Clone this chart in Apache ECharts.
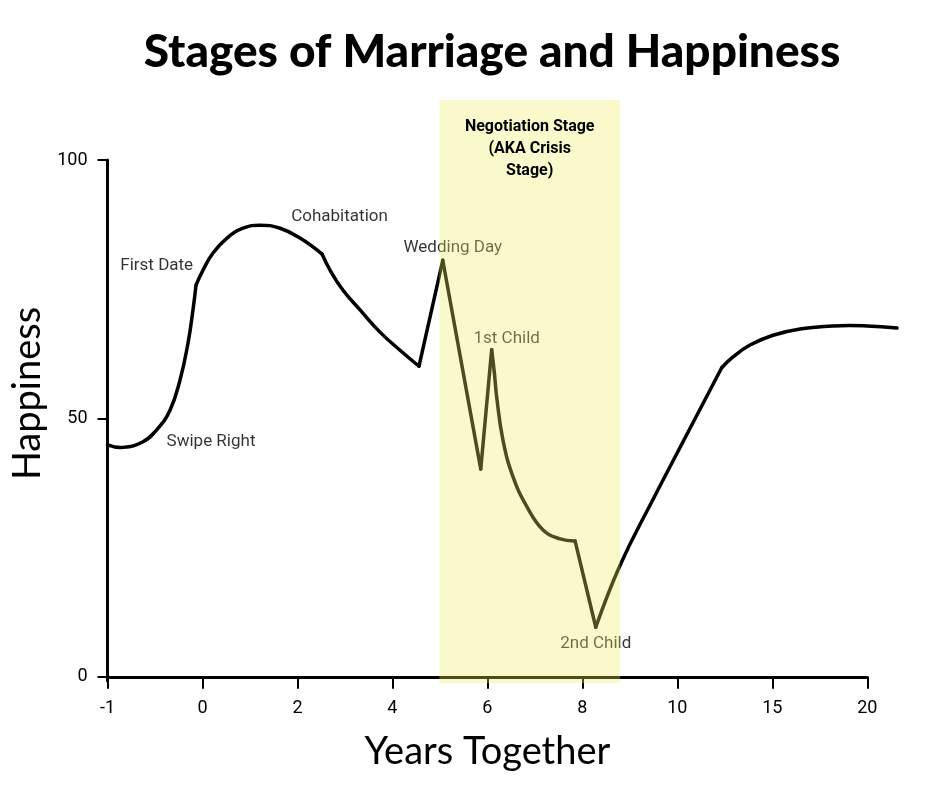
<!DOCTYPE html>
<html>
<head>
<meta charset="utf-8">
<script src="https://cdn.jsdelivr.net/npm/echarts@6/dist/echarts.min.js"></script>
<style>
  html, body { margin: 0; padding: 0; background: #fff; }
  #chart { width: 940px; height: 788px; }
</style>
</head>
<body>
<div id="chart"></div>
<script>
// tick labels on the x axis (the axis is evenly spaced by tick, not by year)
var tickLabels = ['-1', '0', '2', '4', '6', '8', '10', '15', '20'];

// happiness curve, x given in tick positions (0 = "-1", 8 = "20")
var curveX = [0, 0.163, 0.374, 0.518, 0.658, 0.763, 0.848, 0.900, 0.932,
  1.006, 1.111, 1.258, 1.427, 1.606, 1.817, 2.027, 2.259,
  2.343, 2.480, 2.659, 2.869, 3.080, 3.280,
  3.530, 3.930, 4.045,
  4.075, 4.098, 4.164, 4.270, 4.417, 4.586, 4.765, 4.923,
  5.141, 5.397, 5.712, 6.467,
  6.586, 6.765, 7.007, 7.292, 7.639, 7.997, 8.313];
var curveY = [44.9, 44.4, 45.5, 47.8, 51.6, 57.4, 64.6, 71.0, 75.8,
  78.7, 82.0, 84.9, 86.8, 87.4, 86.8, 84.9, 81.8,
  78.7, 74.8, 71.0, 66.7, 63.2, 60.1,
  80.6, 40.2, 63.3,
  58.5, 54.1, 45.8, 38.7, 32.9, 28.4, 26.7, 26.3,
  9.6, 21.6, 33.2, 59.8,
  61.9, 64.2, 66.1, 67.3, 67.9, 67.9, 67.5];
// indexes where the curve bends sharply
var kinks = [0, 8, 16, 22, 23, 24, 25, 33, 34, 37, 44];

// life events written next to the curve
var eventNames = ['Swipe Right', 'First Date', 'Cohabitation', 'Wedding Day', '1st Child', '2nd Child'];
var eventX = [1.090, 0.518, 2.443, 3.636, 4.203, 5.141];
var eventY = [45.4, 79.5, 89.0, 83.0, 65.5, 6.5];

// the negotiation (crisis) stage band
var bandStart = 3.494;
var bandEnd = 5.397;
var bandTop = 111.6;
var bandText = 'Negotiation Stage\n(AKA Crisis\nStage)';

var chart = echarts.init(document.getElementById('chart'));

// one item per stretch between two kinks; each stretch is drawn smooth
var segments = [];
for (var k = 0; k < kinks.length - 1; k++) segments.push([k]);

var series = [];

series.push({
  type: 'custom',
  data: segments,
  z: 2,
  clip: false,
  silent: true,
  renderItem: function (params, api) {
    var k = api.value(0);
    var pts = [];
    for (var i = kinks[k]; i <= kinks[k + 1]; i++) pts.push(api.coord([curveX[i], curveY[i]]));
    return {
      type: 'polyline',
      shape: { points: pts, smooth: pts.length > 2 ? 0.45 : 0 },
      style: { fill: null, stroke: '#000', lineWidth: 3.5, lineCap: 'round', lineJoin: 'round' }
    };
  }
});

series.push({
  type: 'scatter',
  data: eventNames.map(function (n, i) { return { name: n, value: [eventX[i], eventY[i]] }; }),
  symbolSize: 0,
  z: 2,
  label: {
    show: true,
    position: 'inside',
    formatter: '{b}',
    color: '#000',
    fontFamily: 'Roboto',
    fontSize: 17
  },
  silent: true
});

series.push({
  type: 'custom',
  data: [[bandStart, bandEnd, bandTop]],
  z: 5,
  clip: false,
  silent: true,
  renderItem: function (params, api) {
    var p0 = api.coord([api.value(0), api.value(2)]);
    var p1 = api.coord([api.value(1), -0.8]);
    return {
      type: 'group',
      children: [{
        type: 'rect',
        shape: { x: p0[0], y: p0[1], width: p1[0] - p0[0], height: p1[1] - p0[1] + 2 },
        style: { fill: 'rgba(235,235,95,0.32)' }
      }, {
        type: 'text',
        z2: 10,
        style: {
          text: bandText,
          x: (p0[0] + p1[0]) / 2,
          y: p0[1] + 16,
          align: 'center',
          verticalAlign: 'top',
          fill: '#000',
          fontFamily: 'Roboto',
          fontWeight: 'bold',
          fontSize: 16,
          lineHeight: 22
        }
      }]
    };
  }
});

var option = {
  animation: false,
  backgroundColor: '#fff',
  title: {
    text: 'Stages of Marriage and Happiness',
    left: 487,
    textAlign: 'center',
    top: 24,
    textStyle: {
      fontFamily: 'Lato',
      fontWeight: 900,
      fontSize: 46,
      color: '#000'
    }
  },
  grid: { left: 107.5, right: 72.7, top: 160, bottom: 107 },
  xAxis: {
    type: 'value',
    min: 0,
    max: 8,
    interval: 1,
    name: 'Years Together',
    nameLocation: 'middle',
    nameGap: 52,
    nameTextStyle: { fontFamily: 'Lato', fontSize: 38, color: '#000' },
    axisLine: { lineStyle: { color: '#000', width: 3 } },
    axisTick: { length: 12, lineStyle: { color: '#000', width: 2 } },
    axisLabel: {
      margin: 18,
      fontFamily: 'Roboto',
      fontSize: 18,
      color: '#000',
      formatter: function (v) { return tickLabels[v] !== undefined ? tickLabels[v] : ''; }
    },
    splitLine: { show: false }
  },
  yAxis: {
    type: 'value',
    min: -0.8,
    max: 100,
    name: 'Happiness',
    nameLocation: 'middle',
    nameGap: 60,
    nameTextStyle: { fontFamily: 'Lato', fontSize: 38, color: '#000', padding: [0, 0, 0, 54] },
    axisLine: { show: true, lineStyle: { color: '#000', width: 3 } },
    axisTick: { show: true, length: 10, customValues: [0, 50, 100], lineStyle: { color: '#000', width: 2 } },
    axisLabel: { margin: 20, fontFamily: 'Roboto', fontSize: 18, color: '#000', customValues: [0, 50, 100] },
    splitLine: { show: false }
  },
  series: series
};

chart.setOption(option);
</script>
</body>
</html>
